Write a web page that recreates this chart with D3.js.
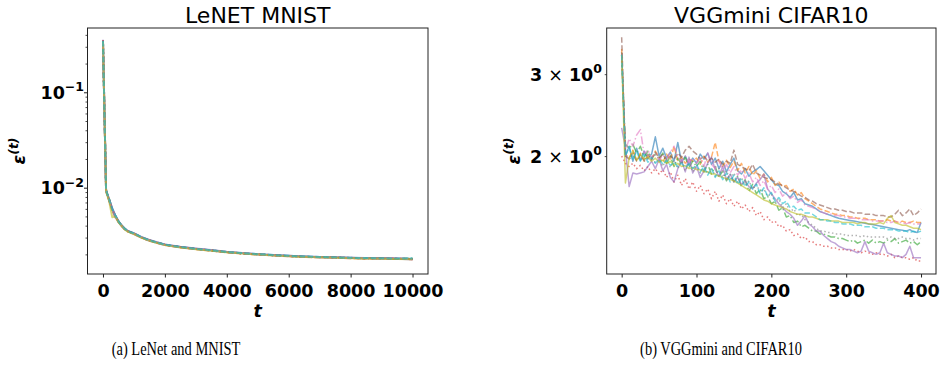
<!DOCTYPE html>
<html><head><meta charset="utf-8">
<script src="https://cdn.jsdelivr.net/npm/d3@7"></script>
<style>body{margin:0;background:#fff}svg{display:block}</style>
</head><body>
<svg id="c" width="941" height="381"></svg>
<script>
// ---------- data ----------
const seriesColors = ["#1f77b4","#ff7f0e","#2ca02c","#d62728","#9467bd","#8c564b","#e377c2","#7f7f7f","#bcbd22","#17becf"];
const seriesStyles = ["solid","dashed","dashdot","dotted","solid","dashed","dashdot","dotted","solid","dashed"];

const leftTitle = "LeNET MNIST";
const rightTitle = "VGGmini CIFAR10";
const leftCaption = "(a) LeNet and MNIST";
const rightCaption = "(b) VGGmini and CIFAR10";

const leftXTicks = [0, 2000, 4000, 6000, 8000, 10000];
const leftYMajor = [0.1, 0.01];
const leftYMajorLabels = [["10","\u22121"],["10","\u22122"]];
const leftYMinor = [0.002,0.003,0.004,0.005,0.006,0.007,0.008,0.009,0.02,0.03,0.04,0.05,0.06,0.07,0.08,0.09,0.2,0.3,0.4];

const rightXTicks = [0, 100, 200, 300, 400];
const rightYTicks = [2, 3];
const rightYLabels = [["2","10","0"],["3","10","0"]];

const leftT = [0,100,200,300,400,500,600,700,800,1000,1250,1500,1750,2000,2500,3000,3500,4000,4500,5000,5500,6000,6500,7000,7500,8000,8500,9000,9500,10000];
const left0 = [0.345,0.0094,0.0075,0.0060,0.0051,0.00445,0.00405,0.00372,0.00352,0.00331,0.00302,0.00281,0.00266,0.00253,0.00239,0.00229,0.00221,0.00212,0.00206,0.00201,0.00197,0.00193,0.0019,0.00188,0.00186,0.00184,0.00183,0.00182,0.00181,0.0018];
const left1 = [0.35,0.0092,0.0073,0.0058,0.0049,0.00438,0.00398,0.00368,0.00347,0.00328,0.00299,0.00279,0.00264,0.00251,0.00237,0.00227,0.00219,0.0021,0.00204,0.00199,0.00195,0.00191,0.00188,0.00186,0.00186,0.00182,0.00181,0.00183,0.00179,0.00178];
const left2 = [0.34,0.0095,0.0076,0.0059,0.0050,0.00442,0.00402,0.00371,0.0035,0.0033,0.003,0.0028,0.00265,0.00252,0.00238,0.00228,0.0022,0.00211,0.00205,0.002,0.00196,0.00192,0.00189,0.00187,0.00185,0.00183,0.00182,0.00181,0.0018,0.00181];
const left3 = [0.35,0.0093,0.0074,0.0058,0.0050,0.0044,0.004,0.0037,0.0035,0.0033,0.003,0.0028,0.00264,0.00252,0.00237,0.00228,0.00219,0.00211,0.00204,0.002,0.00195,0.00192,0.00188,0.00187,0.00184,0.00184,0.00181,0.00181,0.00182,0.00178];
const left4 = [0.355,0.0093,0.0075,0.0061,0.0051,0.00445,0.00403,0.00374,0.00353,0.00334,0.00303,0.00283,0.00268,0.00254,0.0024,0.0023,0.00222,0.00213,0.00207,0.00201,0.00197,0.00193,0.0019,0.00188,0.00186,0.00184,0.00182,0.00182,0.0018,0.00177];
const left5 = [0.35,0.0094,0.0074,0.0059,0.0050,0.00441,0.004,0.0037,0.00349,0.0033,0.003,0.0028,0.00265,0.00252,0.00238,0.00228,0.0022,0.00211,0.00205,0.002,0.00196,0.00192,0.00189,0.00187,0.00185,0.00183,0.00182,0.00181,0.0018,0.00179];
const left6 = [0.34,0.0092,0.0073,0.0058,0.0049,0.00436,0.00397,0.00367,0.00347,0.00327,0.00298,0.00278,0.00263,0.0025,0.00237,0.00227,0.00219,0.00211,0.00204,0.00199,0.00195,0.00191,0.00188,0.00186,0.00184,0.00182,0.00183,0.0018,0.00182,0.00178];
const left7 = [0.345,0.0093,0.0074,0.0059,0.005,0.00443,0.00401,0.00369,0.0035,0.0033,0.00301,0.0028,0.00265,0.00253,0.00238,0.00228,0.0022,0.00212,0.00205,0.002,0.00196,0.00192,0.00189,0.00187,0.00185,0.00183,0.00182,0.00181,0.00179,0.00179];
const left8 = [0.34,0.0091,0.0072,0.0049,0.0050,0.00435,0.00396,0.00366,0.00346,0.00327,0.00298,0.00278,0.00263,0.0025,0.00236,0.00226,0.00218,0.0021,0.00204,0.00199,0.00195,0.00191,0.00188,0.00186,0.00184,0.00182,0.00181,0.0018,0.00179,0.00178];
const left9 = [0.345,0.0094,0.0075,0.006,0.0051,0.00444,0.00403,0.00372,0.00351,0.00332,0.00302,0.00281,0.00266,0.00253,0.00239,0.00229,0.00221,0.00212,0.00206,0.00201,0.00197,0.00193,0.0019,0.00188,0.00186,0.00184,0.00183,0.00182,0.00181,0.00181];

const rightT = d3.range(0, 405, 5);
const right0 = [3.35,2.00,2.10,1.95,2.08,1.96,2.05,1.97,2.02,2.20, 2.00,2.08,1.98,2.04,1.95,2.14,1.94,2.00,1.92,1.98, 1.93,2.02,1.97,2.03,1.92,1.98,1.88,1.95,1.85,1.92, 1.98,1.86,1.83,1.88,1.81,1.85,1.87,1.90,1.86,1.82, 1.78,1.74,1.73,1.68,1.66,1.63,1.67,1.61,1.62,1.58, 1.57,1.56,1.54,1.52,1.51,1.50,1.49,1.48,1.47,1.465, 1.46,1.455,1.45,1.445,1.44,1.435,1.43,1.425,1.42,1.415, 1.41,1.405,1.40,1.395,1.39,1.385,1.38,1.39,1.375,1.37, 1.44];
const right1 = [3.40,2.02,1.98,2.06,1.96,2.03,1.95,2.00,1.97,2.05, 1.99,1.94,2.02,1.96,2.10,1.95,1.99,1.93,1.97,1.95, 1.98,1.92,2.00,1.94,1.99,2.14,1.95,1.90,1.96,1.89, 1.95,1.86,1.93,1.84,1.90,1.82,1.86,1.79,1.83,1.76, 1.80,1.73,1.76,1.72,1.73,1.68,1.70,1.65,1.67,1.62, 1.60,1.58,1.56,1.54,1.53,1.52,1.51,1.50,1.50,1.49, 1.49,1.48,1.48,1.47,1.47,1.47,1.46,1.46,1.46,1.45, 1.45,1.46,1.45,1.45,1.44,1.45,1.44,1.44,1.45,1.44, 1.44];
const right2 = [3.30,2.12,2.08,2.12,2.03,2.10,1.99,2.05,1.98,2.02, 1.97,2.03,1.93,2.00,1.90,1.98,1.92,1.99,1.89,1.95, 1.90,1.95,1.85,1.92,1.83,1.90,1.80,1.86,1.77,1.83, 1.76,1.81,1.72,1.78,1.68,1.74,1.66,1.70,1.62,1.64, 1.58,1.60,1.53,1.55,1.48,1.49,1.44,1.45,1.41,1.42, 1.40,1.38,1.38,1.36,1.36,1.35,1.34,1.34,1.33,1.33, 1.32,1.31,1.32,1.30,1.31,1.32,1.30,1.32,1.30,1.31, 1.30,1.32,1.31,1.33,1.30,1.31,1.32,1.30,1.31,1.29, 1.31];
const right3 = [2.00,1.93,1.90,1.93,1.88,1.91,1.86,1.90,1.84,1.88, 1.83,1.87,1.80,1.85,1.76,1.82,1.73,1.79,1.70,1.76, 1.68,1.73,1.66,1.70,1.62,1.68,1.60,1.65,1.58,1.62, 1.56,1.60,1.54,1.57,1.52,1.55,1.49,1.52,1.46,1.48, 1.44,1.45,1.41,1.42,1.38,1.39,1.35,1.36,1.33,1.34, 1.31,1.31,1.29,1.29,1.28,1.28,1.27,1.27,1.26,1.26, 1.26,1.25,1.26,1.25,1.24,1.25,1.24,1.23,1.24,1.23, 1.23,1.22,1.23,1.21,1.22,1.21,1.21,1.20,1.21,1.19, 1.19];
const right4 = [2.30,2.08,1.72,1.84,1.83,1.84,1.85,1.90,1.95,1.88, 1.97,1.86,1.92,1.80,1.76,1.88,1.96,1.85,1.99,1.84, 1.90,1.80,1.86,1.93,1.99,1.87,1.81,1.90,1.78,1.83, 1.76,1.80,1.74,1.77,1.72,1.70,1.75,1.78,1.83,1.70, 1.66,1.62,1.58,1.55,1.52,1.50,1.47,1.42,1.45,1.49, 1.43,1.41,1.38,1.38,1.35,1.33,1.31,1.30,1.28,1.27, 1.26,1.26,1.25,1.24,1.25,1.31,1.25,1.24,1.23,1.24, 1.30,1.24,1.23,1.22,1.22,1.21,1.23,1.28,1.21,1.21, 1.21];
const right5 = [3.60,2.00,1.97,2.03,1.95,2.01,1.96,2.02,1.97,2.04, 1.98,2.02,1.96,2.00,1.97,2.03,1.99,2.06,2.10,2.05, 2.02,1.97,2.00,1.95,1.98,1.94,1.97,1.92,1.95,1.93, 2.06,1.92,1.90,1.88,1.86,1.92,1.84,1.82,1.80,1.79, 1.78,1.76,1.74,1.73,1.71,1.69,1.68,1.66,1.64,1.63, 1.61,1.60,1.58,1.57,1.56,1.55,1.54,1.54,1.53,1.53, 1.52,1.52,1.51,1.51,1.51,1.50,1.50,1.50,1.49,1.49, 1.49,1.48,1.48,1.50,1.53,1.49,1.51,1.54,1.49,1.51, 1.54];
const right6 = [3.30,2.05,2.18,2.10,2.22,2.28,2.02,2.06,1.98,2.03, 1.96,2.01,1.97,2.04,2.10,1.99,1.95,2.00,1.94,1.98, 1.93,1.98,1.90,2.03,1.92,1.88,1.96,1.86,1.92,1.84, 1.90,1.82,1.87,1.79,1.84,1.76,1.80,1.73,1.77,1.70, 1.73,1.67,1.70,1.64,1.67,1.62,1.64,1.59,1.61,1.57, 1.56,1.55,1.54,1.52,1.51,1.50,1.50,1.49,1.49,1.48, 1.48,1.47,1.47,1.47,1.46,1.46,1.46,1.45,1.45,1.45, 1.45,1.44,1.44,1.45,1.44,1.44,1.43,1.44,1.43,1.43, 1.43];
const right7 = [3.20,2.02,1.97,2.00,1.96,1.99,1.95,1.98,1.96,1.94, 1.97,1.90,1.98,1.89,1.96,1.88,1.95,1.86,1.93,1.85, 1.92,1.84,1.91,1.83,1.89,1.81,1.88,1.80,1.86,1.78, 1.84,1.76,1.80,1.73,1.77,1.70,1.74,1.67,1.70,1.64, 1.66,1.59,1.62,1.55,1.58,1.52,1.54,1.49,1.50,1.46, 1.44,1.42,1.40,1.38,1.38,1.37,1.37,1.36,1.36,1.36, 1.35,1.35,1.35,1.35,1.34,1.35,1.34,1.34,1.34,1.34, 1.34,1.33,1.34,1.33,1.33,1.34,1.33,1.33,1.32,1.33, 1.33];
const right8 = [3.30,1.75,1.98,2.05,1.96,2.02,1.97,1.99,1.95,1.98, 1.94,1.96,1.93,1.95,1.91,1.93,1.90,1.91,1.88,1.89, 1.87,1.87,1.85,1.85,1.83,1.83,1.81,1.80,1.79,1.78, 1.77,1.75,1.73,1.71,1.69,1.67,1.65,1.63,1.61,1.60, 1.58,1.57,1.56,1.55,1.54,1.52,1.51,1.50,1.50,1.49, 1.48,1.48,1.47,1.46,1.46,1.46,1.45,1.45,1.45,1.44, 1.44,1.44,1.44,1.43,1.44,1.44,1.43,1.43,1.43,1.44, 1.43,1.47,1.49,1.44,1.43,1.42,1.42,1.41,1.40,1.40, 1.39];
const right9 = [3.30,2.00,2.09,1.96,2.05,1.95,2.02,1.94,1.99,1.93, 1.97,1.92,1.96,1.91,1.94,1.90,1.93,1.89,1.92,1.88, 1.92,1.85,1.90,1.82,1.88,1.80,1.86,1.78,1.84,1.76, 1.82,1.74,1.79,1.72,1.76,1.70,1.74,1.66,1.71,1.64, 1.67,1.60,1.63,1.58,1.60,1.55,1.56,1.53,1.54,1.51, 1.51,1.50,1.48,1.46,1.46,1.45,1.45,1.44,1.44,1.43, 1.43,1.43,1.42,1.42,1.42,1.41,1.41,1.41,1.40,1.40, 1.40,1.39,1.39,1.39,1.38,1.38,1.38,1.37,1.38,1.37, 1.38];

const leftSeries = [left0,left1,left2,left3,left4,left5,left6,left7,left8,left9];
const rightSeries = [right0,right1,right2,right3,right4,right5,right6,right7,right8,right9];

// ---------- drawing ----------
const svg = d3.select("#c");
const FONT = "'DejaVu Sans', sans-serif";
const dashMap = {solid:null, dashed:"5.5,2.4", dashdot:"8,2.4,1.5,2.4", dotted:"1.5,2.5"};
const plotTop = 28, plotBottom = 274;

function drawPanel(cfg) {
  const g = svg.append("g");
  const x = d3.scaleLinear().domain(cfg.xDomain).range([cfg.left, cfg.right]);
  const y = d3.scaleLog().domain(cfg.yDomain).range([plotBottom, plotTop]);

  const clipId = "clip" + cfg.id;
  svg.append("clipPath").attr("id", clipId).append("rect")
    .attr("x", cfg.left).attr("y", plotTop).attr("width", cfg.right - cfg.left).attr("height", plotBottom - plotTop);

  const line = d3.line().x((d, i) => x(cfg.t[i])).y(d => y(d));
  g.append("g").attr("clip-path", `url(#${clipId})`)
    .selectAll("path").data(cfg.series).join("path")
    .attr("d", d => line(d))
    .attr("fill", "none")
    .attr("stroke", (d, i) => seriesColors[i])
    .attr("stroke-opacity", 0.6)
    .attr("stroke-width", cfg.lineWidth)
    .attr("stroke-linejoin", "round")
    .attr("stroke-dasharray", (d, i) => dashMap[seriesStyles[i]]);

  g.append("rect").attr("x", cfg.left).attr("y", plotTop)
    .attr("width", cfg.right - cfg.left).attr("height", plotBottom - plotTop)
    .attr("fill", "none").attr("stroke", "#222").attr("stroke-width", 1);

  const xa = g.append("g").attr("transform", `translate(0,${plotBottom})`)
    .call(d3.axisBottom(x).tickValues(cfg.xTicks).tickSize(3.5).tickFormat(d3.format("d")));
  xa.select(".domain").remove();
  xa.selectAll("line").attr("stroke", "#222");
  xa.selectAll("text").attr("y", 22.5).attr("dy", null)
    .attr("fill", "#000").style("font-family", FONT).style("font-weight", "bold").style("font-size", "17.5px");

  if (cfg.yMajor.length) {
    const ya = g.append("g").attr("transform", `translate(${cfg.left},0)`)
      .call(d3.axisLeft(y).tickValues(cfg.yMajor).tickSize(3.5).tickFormat(""));
    ya.select(".domain").remove(); ya.selectAll("line").attr("stroke", "#222");
  }
  const ym = g.append("g").attr("transform", `translate(${cfg.left},0)`)
    .call(d3.axisLeft(y).tickValues(cfg.yMinor).tickSize(2).tickFormat(""));
  ym.select(".domain").remove(); ym.selectAll("line").attr("stroke", "#222").attr("stroke-width", 0.8);

  cfg.yLabelVals.forEach((v, i) => {
    const parts = cfg.yLabels[i];
    const t = g.append("text").attr("x", cfg.labelRight).attr("y", y(v) + 6.4)
      .attr("text-anchor", "end").attr("fill", "#000")
      .style("font-family", FONT).style("font-weight", "bold").style("font-size", "17.5px");
    if (parts.length === 2) {
      t.append("tspan").text(parts[0]);
      t.append("tspan").attr("dy", -7.5).style("font-size", "12.5px").text(parts[1]);
    } else {
      t.append("tspan").text(parts[0] + " ");
      t.append("tspan").style("font-weight", "normal").text("\u00d7");
      t.append("tspan").text(" " + parts[1]);
      t.append("tspan").attr("dy", -7.5).style("font-size", "12.5px").text(parts[2]);
    }
  });

  g.append("text").attr("x", (cfg.left + cfg.right) / 2).attr("y", 22.5)
    .attr("text-anchor", "middle").attr("fill", "#000")
    .style("font-family", FONT).style("font-size", "22px").text(cfg.title);

  g.append("text").attr("x", (cfg.left + cfg.right) / 2).attr("y", 317)
    .attr("text-anchor", "middle").attr("fill", "#000")
    .style("font-family", FONT).style("font-weight", "bold").style("font-style", "italic")
    .style("font-size", "17.5px").text("t");

  const yl = g.append("text").attr("transform", `translate(${cfg.yLabelX},${(plotTop + plotBottom) / 2}) rotate(-90)`)
    .attr("text-anchor", "middle").attr("fill", "#000")
    .style("font-family", FONT).style("font-weight", "bold").style("font-style", "italic")
    .style("font-size", "17.5px");
  yl.append("tspan").text("\u03b5");
  yl.append("tspan").attr("dy", -7.5).style("font-size", "12.5px").text("(t)");

  svg.append("text").attr("x", cfg.captionX).attr("y", 355)
    .attr("text-anchor", "middle").attr("fill", "#000")
    .attr("transform", `translate(${cfg.captionX},0) scale(0.76,1) translate(${-cfg.captionX},0)`)
    .style("font-family", "'Liberation Serif', 'Times New Roman', serif").style("font-size", "19px")
    .text(cfg.caption);
}

drawPanel({
  id: "L", left: 87.5, right: 428, xDomain: [-500, 10500], yDomain: [0.001245, 0.472],
  t: leftT, series: leftSeries, xTicks: leftXTicks, lineWidth: 2,
  yMajor: leftYMajor, yMinor: leftYMinor, yLabelVals: leftYMajor, yLabels: leftYMajorLabels,
  labelRight: 84, title: leftTitle, yLabelX: 25, caption: leftCaption, captionX: 176
});
drawPanel({
  id: "R", left: 606.7, right: 936, xDomain: [-20, 420], yDomain: [1.116, 3.77],
  t: rightT, series: rightSeries, xTicks: rightXTicks, lineWidth: 1.5,
  yMajor: [], yMinor: rightYTicks, yLabelVals: rightYTicks, yLabels: rightYLabels,
  labelRight: 602, title: rightTitle, yLabelX: 520, caption: rightCaption, captionX: 721
});
</script>
</body></html>
